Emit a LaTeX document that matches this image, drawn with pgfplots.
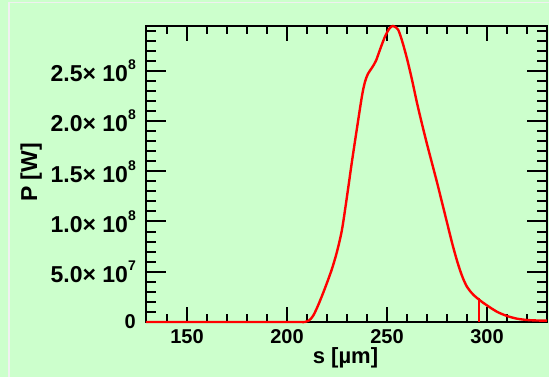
\documentclass[border=0pt]{standalone}
\usepackage{fontspec}
\setmainfont{Liberation Sans}
\usepackage{pgfplots}
\pgfplotsset{compat=1.18}
\definecolor{bgc}{RGB}{204,255,204}
\definecolor{framec}{RGB}{240,240,240}
\newcommand{\sci}[2]{{\fontsize{23}{23}\selectfont\bfseries #1× 10\raisebox{12pt}{\fontsize{14}{14}\selectfont\bfseries #2}}}
\begin{document}
\begin{tikzpicture}
\fill[bgc] (-146pt,-55pt) rectangle (403pt,322pt);
\draw[framec, line width=1.2pt] (-137pt,-55pt) -- (-137pt,319.5pt) -- (403pt,319.5pt);
\pgfplotsset{common/.style={
  scale only axis, width=401pt, height=296pt,
  xmin=129.5, xmax=330, ymin=0, ymax=2.945e8,
  scaled y ticks=false, scaled x ticks=false,
  tick style={line width=2pt, black},
  axis line style={line width=2.5pt, black},
}}
\begin{axis}[common,
  at={(0,0)}, anchor=south west,
  xtick=\empty,
  ytick={0,5e7,1e8,1.5e8,2e8,2.5e8},
  yticklabels={{\fontsize{20}{20}\selectfont\bfseries 0},\sci{5.0}{7},\sci{1.0}{8},\sci{1.5}{8},\sci{2.0}{8},\sci{2.5}{8}},
  minor ytick={1e7,2e7,3e7,4e7,6e7,7e7,8e7,9e7,1.1e8,1.2e8,1.3e8,1.4e8,1.6e8,1.7e8,1.8e8,1.9e8,2.1e8,2.2e8,2.3e8,2.4e8,2.6e8,2.7e8,2.8e8,2.9e8},
  major tick length=20pt, minor tick length=10pt,
  yticklabel style={inner sep=0pt, anchor=east, xshift=-10pt},
  ylabel={P [W]},
  ylabel style={at={(axis description cs:-0.2718,0.505)}, anchor=base, font=\fontsize{23}{23}\selectfont\bfseries},
]
\end{axis}
\begin{axis}[common,
  at={(0,0)}, anchor=south west,
  axis line style={draw=none},
  ytick=\empty,
  xtick={150,200,250,300},
  xticklabels={150,200,250,300},
  minor xtick={140,160,170,180,190,210,220,230,240,260,270,280,290,310,320},
  major tick length=15pt, minor tick length=8pt,
  xticklabel style={font=\fontsize{20}{20}\selectfont\bfseries, inner sep=0pt, anchor=base, yshift=-22pt},
  xlabel={s [µm]},
  xlabel style={at={(axis description cs:0.4975,-0.1395)}, anchor=base, font=\fontsize{22}{22}\selectfont\bfseries},
  clip=false,
]
\addplot[red, line width=2.4pt, smooth, tension=0.5] coordinates {
(129.5,0) (150,0) (180,0) (205,0) (209,0) (211,1.5e6) (213,6e6) (215,1.4e7)
(217.5,2.6e7) (220,3.9e7) (222.5,5.3e7) (225,7.0e7) (227.5,9.2e7)
(230,1.25e8) (232.5,1.6e8) (235,1.93e8) (237.5,2.25e8) (239,2.39e8)
(240.5,2.47e8) (242.5,2.53e8) (244.5,2.6e8) (246.5,2.71e8) (249,2.84e8)
(251.2,2.92e8) (253,2.945e8) (255.5,2.91e8) (257.5,2.80e8) (260,2.62e8)
(262.5,2.41e8) (265,2.18e8) (267.5,1.97e8) (270,1.77e8) (272.5,1.58e8)
(275,1.39e8) (277.5,1.19e8) (280,9.9e7) (282.5,7.9e7) (285,6.1e7)
(287.5,4.6e7) (290,3.5e7) (293,2.75e7) (296.5,2.15e7) (300,1.65e7)
(305,1.02e7) (310,6e6) (315,3.3e6) (320,2e6) (325,1.5e6) (330,1.3e6)
};
\addplot[red, line width=2.4pt] coordinates {(296,0) (296,2.4e7)};
\end{axis}
\pgfresetboundingbox
\path (-146pt,-55pt) rectangle (403pt,322pt);
\end{tikzpicture}
\end{document}
